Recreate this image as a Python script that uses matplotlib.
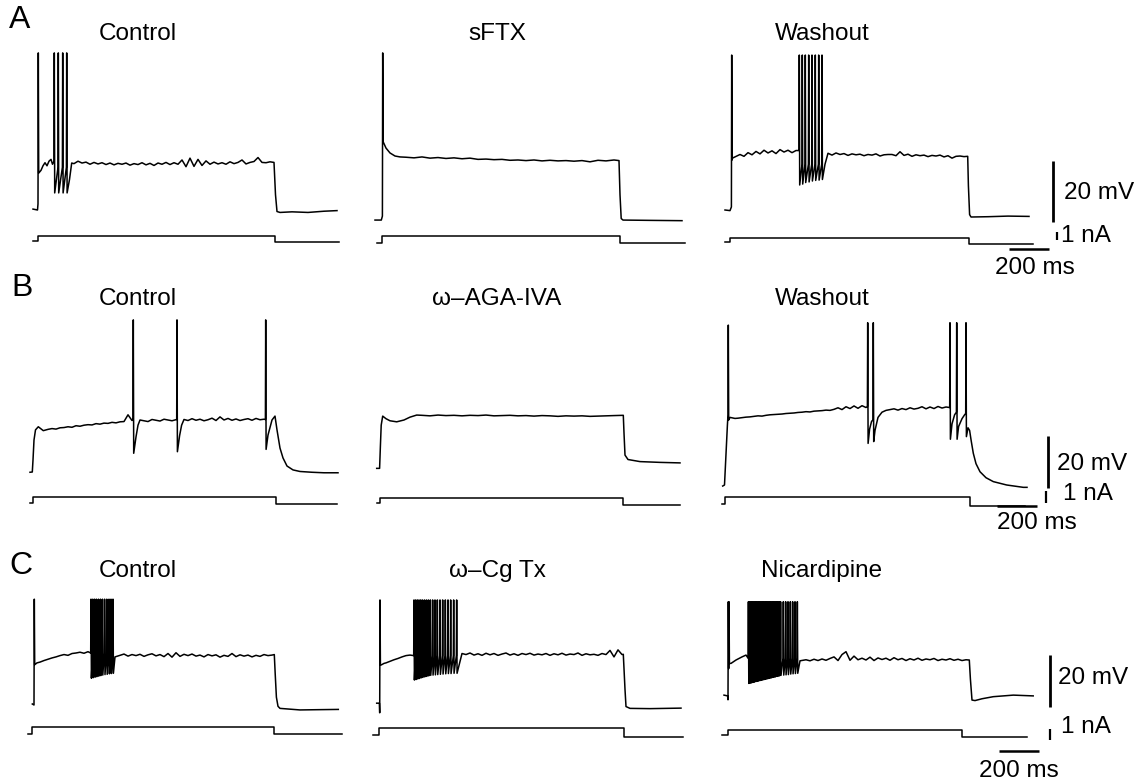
import numpy as np
import matplotlib
matplotlib.use('Agg')
import matplotlib.pyplot as plt

plt.rcParams['font.family'] = ['Liberation Sans', 'DejaVu Sans']

# ---------------- data (time in ms, membrane potential in mV, current in nA) ----------------
titles = [['Control', 'sFTX', 'Washout'],
          ['Control', 'ω–AGA-IVA', 'Washout'],
          ['Control', 'ω–Cg Tx', 'Nicardipine']]
row_letters = ['A', 'B', 'C']

# spikes are (time, threshold, peak, trough)
# --- A / Control
a1_t = [25, 47.5, 65, 75, 85, 95, 105, 115, 122.5, 207.5, 218.5,
        1230, 1237.5, 1245, 1260, 1320, 1400, 1480, 1545]
a1_v = [-59.7, -60.0, -47.0, -45.5, -44.5, -45.5, -44.0, -43.4, -45.0, -50.0, -44.6,
        -44.4, -55.0, -60.5, -60.8, -60.6, -60.8, -60.4, -60.2]
a1_spikes = [(51.5, -58.0, -8.5, -47.9), (131.5, -44.0, -8.5, -54.4), (151.5, -46.0, -8.5, -54.4),
             (173.5, -46.0, -8.5, -54.4), (193.5, -46.0, -8.5, -54.4)]
a1_grid = (230, 20, [-44.8, -44.0, -44.6, -44.3, -45.0, -44.4, -44.9, -44.5, -45.1, -44.6,
                     -45.2, -44.7, -45.0, -44.6, -45.3, -44.8, -45.1, -44.5, -45.2, -44.7,
                     -45.4, -44.6, -45.0, -44.4, -45.1, -44.5, -45.0, -43.6, -45.8, -43.0,
                     -45.7, -43.4, -45.4, -43.9, -45.0, -44.3, -44.9, -44.5, -45.0, -44.2,
                     -44.8, -44.4, -43.6, -44.9, -44.4, -44.1, -42.8, -44.4, -44.5, -44.2])
a1_i = ([26.5, 51.5, 1235, 1556.5], [0.08, 0.72, 0.0])

# --- A / sFTX
a2_t = [25, 56.5, 80, 100, 125, 150, 1245, 1250, 1256, 1265, 1400, 1560]
a2_v = [-63.3, -63.3, -39.7, -41.3, -42.3, -42.6, -43.8, -55.0, -62.8, -63.3, -63.4, -63.5]
a2_spikes = [(63.5, -62.0, -8.5, -37.6)]
a2_grid = (180, 40, [-42.7, -42.9, -42.6, -43.0, -42.8, -43.1, -42.9, -43.2, -43.0, -43.4,
                     -43.3, -43.5, -43.4, -43.7, -43.6, -43.8, -43.6, -43.9, -43.7, -43.9,
                     -43.8, -44.0, -43.8, -44.2, -43.7, -43.9, -43.6])
a2_i = ([33.5, 60, 1248, 1575], [-0.08, 0.72, -0.16])

# --- A / Washout
a3_t = [35, 60, 72, 535, 1248.5, 1252, 1258, 1265, 1350, 1450, 1555]
a3_v = [-60.0, -60.2, -43.0, -45.0, -42.4, -52.0, -61.5, -62.3, -62.2, -62.0, -62.1]
a3_spikes = [(68.5, -59.0, -9.2, -43.6),
             (406.5, -40.5, -9.2, -51.8), (421.5, -45.0, -9.2, -51.5), (436.5, -45.0, -9.2, -51.0),
             (453.5, -45.0, -9.2, -50.8), (470, -45.0, -9.2, -50.5), (486.5, -45.0, -9.2, -50.3),
             (503.5, -45.0, -9.2, -50.2), (520, -45.0, -9.2, -50.0)]
a3_grid = (90, 20, [-42.3, -41.8, -42.4, -41.2, -41.9, -40.8, -41.6, -40.4, -41.3, -40.6,
                    -41.5, -40.2, -41.0, -40.4, -41.2, -40.5,
                    -41.5, -41.5, -41.5, -41.5, -41.5, -41.5,
                    -41.5, -41.4, -42.0, -41.3, -41.8, -41.5, -42.1, -41.6, -41.9, -41.7,
                    -42.2, -41.8, -42.0, -41.6, -42.3, -41.9, -41.8, -41.8, -42.2, -40.9,
                    -42.1, -41.7, -42.4, -41.9, -42.2, -42.0, -42.5, -42.1, -42.3, -42.0,
                    -42.6, -42.2, -43.0, -42.4, -42.3, -42.5])
a3_i = ([35, 60, 1255, 1573.5], [0.0, 0.45, -0.28])

# --- B / Control
b1_t = [10, 21.5, 25, 30, 37.5, 51.5, 76.5, 540, 550, 758, 768,
        1200, 1220, 1235, 1245, 1260, 1275, 1295, 1325, 1360, 1420, 1480, 1550]
b1_v = [-60.1, -60.0, -55.4, -47.7, -43.8, -42.6, -44.1, -46.5, -42.0, -46.0, -42.0,
        -45.8, -40.0, -38.5, -43.8, -50.8, -54.6, -57.7, -59.2, -59.8, -60.1, -60.3, -60.3]
b1_spikes = [(526.5, -39.5, -1.5, -52.8), (745, -39.8, -1.5, -52.2), (1188.5, -39.8, -1.5, -51.3)]
b1_grid = (100, 20, [-43.6, -43.3, -43.5, -43.0, -42.9, -42.6, -42.8, -42.2, -42.4, -42.0,
                     -41.8, -41.9, -41.4, -41.6, -41.2, -41.3, -40.9, -41.1, -40.7, -40.6,
                     -38.0, -40.2, -40.4, -40.0, -40.3, -40.6, -39.8, -40.1, -40.4, -39.7,
                     -40.0, -40.3, -40.0, -40.0, -39.8, -40.2, -39.5, -40.1, -39.7, -40.3,
                     -39.9, -39.3, -40.2, -38.8, -40.0, -39.4, -40.1, -39.6, -40.2, -39.8,
                     -39.5, -40.1, -39.4, -39.9, -39.7])
b1_i = ([10, 26.5, 1240, 1545], [0.03, 0.48, -0.08])

# --- B / omega-AGA-IVA
b2_t = [33.5, 48, 52, 56, 63.5, 80, 100, 133.5, 170, 200, 233.5,
        1266.5, 1270, 1275, 1290, 1350, 1450, 1550]
b2_v = [-58.6, -58.6, -50.0, -42.0, -38.5, -39.5, -40.3, -40.7, -40.0, -38.9, -38.1,
        -38.2, -45.0, -53.5, -55.2, -56.0, -56.3, -56.5]
b2_spikes = []
b2_grid = (260, 40, [-38.2, -38.4, -38.1, -38.3, -38.2, -38.4, -38.2, -38.3, -38.1, -38.4,
                     -38.3, -38.2, -38.4, -38.3, -38.5, -38.3, -38.4, -38.6, -38.4, -38.5,
                     -38.4, -38.6, -38.5, -38.4, -38.3])
b2_i = ([33.5, 50, 1263.5, 1550], [0.03, 0.39, -0.17])

# --- B / Washout
b3_t = [23.5, 32.5, 47, 60, 85, 758, 768, 785, 800, 1170, 1183, 1203, 1220, 1233,
        1250, 1258, 1266, 1276.5, 1290, 1310, 1340, 1376.5, 1443.5, 1526.5, 1545]
b3_v = [-65.4, -65.0, -42.0, -39.0, -39.4, -43.5, -40.5, -44.0, -39.0, -41.5, -38.0, -42.5, -39.5, -38.0,
        -43.0, -44.0, -48.0, -52.8, -56.8, -59.9, -62.2, -63.7, -65.0, -65.9, -65.9]
b3_spikes = [(51.5, -38.0, -3.5, -40.0),
             (748.5, -34.8, -2.6, -49.0), (776.5, -40.0, -2.6, -48.3),
             (1160, -35.2, -2.6, -47.4), (1193.5, -37.0, -2.6, -47.4), (1240, -37.5, -2.6, -46.4)]
b3_grid = (100, 20, [-39.3, -39.1, -38.9, -38.8, -38.6, -38.4, -38.5, -38.2, -38.0, -37.9,
                     -37.8, -37.7, -37.5, -37.4, -37.3, -37.1, -37.0, -36.8, -36.9, -36.6,
                     -36.5, -36.4, -36.2, -36.3, -35.9, -35.3, -36.0, -34.9, -35.6, -34.6,
                     -35.5, -34.5, -35.2, -35.0, -35.0, -35.0, -37.0, -36.3, -36.0, -35.7,
                     -36.2, -35.6, -36.0, -35.3, -35.8, -35.5, -34.9, -35.7, -35.0, -35.6,
                     -34.8, -35.4, -35.0])
b3_i = ([18.5, 35, 1260, 1535], [-0.08, 0.48, -0.25])

# --- C / Control
c1_t = [21.5, 45, 435, 1231.5, 1236, 1242, 1250, 1260, 1360, 1450, 1551.5]
c1_v = [-59.6, -43.8, -41.5, -40.6, -48.0, -57.0, -60.5, -61.3, -61.9, -61.8, -61.7]
c1_spikes = [(31.5, -60.0, -19.3, -44.5),
             (315, -40.0, -19.3, -49.7), (324, -40.0, -19.3, -49.5), (333, -40.0, -19.3, -49.3),
             (342, -40.0, -19.3, -49.1), (352, -40.0, -19.3, -48.9), (362, -40.0, -19.3, -48.7),
             (372, -40.0, -19.3, -48.5), (383, -40.0, -19.3, -48.3), (394, -40.0, -19.3, -48.2),
             (405, -40.0, -19.3, -48.0), (415, -40.0, -19.3, -47.9), (425, -40.0, -19.3, -47.8)]
c1_grid = (60, 20, [-43.5, -42.9, -42.4, -41.9, -41.5, -41.0, -40.6, -40.9, -40.2, -40.0,
                    -39.7, -40.1, -39.5, -39.6, -39.5, -39.5, -39.5, -39.5, -39.5, -39.5,
                    -40.9, -40.4, -41.2, -40.6, -41.0, -40.5, -41.3, -40.7, -40.3, -41.1,
                    -40.6, -41.4, -40.2, -41.6, -39.9, -41.3, -40.5, -41.0, -40.4, -41.2,
                    -40.8, -41.5, -40.6, -41.1, -40.7, -41.6, -40.9, -41.3, -40.2, -41.4,
                    -40.7, -41.2, -40.8, -41.5, -40.9, -41.3, -40.6, -41.0, -40.8])
c1_i = ([0, 21.5, 1231.5, 1571.5], [0.0, 0.66, -0.03])

# --- C / omega-Cg Tx
c2_t = [33.5, 47, 56, 70, 1266.5, 1270, 1275, 1280, 1300, 1400, 1555]
c2_v = [-59.3, -59.3, -44.6, -44.0, -40.5, -46.0, -54.0, -60.6, -61.3, -61.4, -61.2]
c2_spike_times = [220, 228.3, 236.7, 245, 253.3, 261.7, 271.7, 281.7, 291.7, 301.7,
                  313.3, 325, 336.7, 350, 363.3, 376.7, 390, 403.3, 418.3, 433.3]
c2_troughs = [-50.4, -50.2, -50.0, -49.8, -49.6, -49.4, -49.2, -49.0, -48.8, -48.6,
              -48.5, -48.4, -48.3, -48.2, -48.1, -48.0, -47.9, -47.9, -47.8, -47.8]
c2_spikes = [(50, -63.0, -19.6, -44.6)] + [(t, -41.0, -19.6, tr) for t, tr in zip(c2_spike_times, c2_troughs)]
c2_grid = (80, 20, [-43.8, -43.2, -42.6, -42.1, -41.5, -41.0, -40.8, -40.8, -40.8, -40.8,
                    -40.8, -40.8, -40.8, -40.8, -40.8, -40.8, -40.8, -40.8, -40.8, -40.2,
                    -40.6, -40.0, -40.8, -40.3, -40.9, -40.1, -40.7, -40.2, -40.9, -40.4,
                    -40.0, -40.8, -40.3, -40.9, -40.2, -40.6, -40.1, -40.8, -40.4, -40.7,
                    -40.2, -40.9, -40.3, -40.7, -40.1, -40.8, -40.4, -40.6, -40.0, -40.9,
                    -40.3, -40.7, -40.5, -40.9, -40.2, -40.6, -39.0, -41.5, -38.8, -40.6])
c2_i = ([13.5, 45, 1270, 1565], [-0.09, 0.52, -0.25])

# --- C / Nicardipine
c3_t = [30, 48, 65, 90, 120, 410, 1256.5, 1262, 1270, 1285, 1320, 1376.5, 1476.5, 1576]
c3_v = [-56.2, -56.5, -44.0, -42.7, -41.5, -43.0, -42.7, -50.0, -58.1, -58.3, -57.6, -56.8, -56.2, -56.5]
c3_spike_times = [152, 159, 166, 173, 180, 187, 194, 201, 208, 215, 222, 229, 236, 243, 250, 257,
                  264, 271, 278, 285, 292, 299, 306, 313, 326.7, 338.3, 350, 361.7, 373.3, 385, 396.7]
c3_troughs = [-51.7, -51.6, -51.5, -51.3, -51.2, -51.0, -50.9, -50.8, -50.6, -50.5, -50.4, -50.2,
              -50.1, -50.0, -49.8, -49.7, -49.6, -49.4, -49.3, -49.2, -49.0, -48.9, -48.8, -48.6,
              -48.5, -48.4, -48.3, -48.1, -48.0, -47.9, -47.8]
c3_spikes = [(51.5, -58.0, -20.3, -46.0), (55, -46.0, -20.3, -44.0)] + \
            [(t, -42.0, -20.3, tr) for t, tr in zip(c3_spike_times, c3_troughs)]
c3_grid = (140, 20, [-40.8, -40.8, -40.8, -40.8, -40.8, -40.8, -40.8, -40.8, -40.8, -40.8,
                     -41.0, -41.0, -41.0, -41.0, -41.0, -42.6, -43.0, -42.4, -42.9, -42.3,
                     -42.8, -42.1, -41.5, -42.9, -40.6, -39.5, -42.8, -41.2, -42.6, -42.0,
                     -42.7, -41.6, -42.9, -41.9, -42.5, -42.0, -42.8, -41.8, -42.6, -42.1,
                     -42.9, -42.2, -42.7, -42.0, -42.8, -42.3, -42.6, -42.1, -42.9, -42.4,
                     -42.7, -42.2, -42.8, -42.4, -42.9, -42.6])
c3_i = ([20, 50, 1218.5, 1546.5], [-0.09, 0.36, -0.25])

panels = [[(a1_t, a1_v, a1_spikes, a1_grid, a1_i), (a2_t, a2_v, a2_spikes, a2_grid, a2_i),
           (a3_t, a3_v, a3_spikes, a3_grid, a3_i)],
          [(b1_t, b1_v, b1_spikes, b1_grid, b1_i), (b2_t, b2_v, b2_spikes, b2_grid, b2_i),
           (b3_t, b3_v, b3_spikes, b3_grid, b3_i)],
          [(c1_t, c1_v, c1_spikes, c1_grid, c1_i), (c2_t, c2_v, c2_spikes, c2_grid, c2_i),
           (c3_t, c3_v, c3_spikes, c3_grid, c3_i)]]

# scale bars
SCALE_MV = 20
SCALE_NA = 1
SCALE_MS = 200


def make_trace(wt, wv, spikes, grid):
    pts = list(zip(wt, wv))
    g0, gdt, gv = grid
    for k, v in enumerate(gv):
        t = g0 + k * gdt
        if any(s[0] - 5 <= t <= s[0] + 25 for s in spikes):
            continue
        if any(abs(t - w) < 5 for w in wt):
            continue
        pts.append((t, v))
    for t, thr, pk, tr in spikes:
        pts += [(t - 1.5, thr), (t, pk), (t + 2, tr)]
    pts.sort()
    t, v = zip(*pts)
    return np.array(t), np.array(v)


def make_step(times, levels):
    t0, ton, toff, tend = times
    pre, step, post = levels
    return [t0, ton, ton, toff, toff, tend], [pre, pre, step, step, post, post]


# ---------------- layout (pixels) ----------------
W, H = 1142, 783
col_left = [28, 370, 718]
col_width = 316          # 0.2 px per ms
t_max = 1580
rows = [dict(v_top=45, v_bot=228, v_ref=210, v_scale=3.05, i_top=228, i_bot=262, i_ref=242, i_scale=8.3),
        dict(v_top=312, v_bot=494, v_ref=472, v_scale=2.6, i_top=494, i_bot=512, i_ref=503, i_scale=12.0),
        dict(v_top=592, v_bot=718, v_ref=705, v_scale=2.6, i_top=718, i_bot=756, i_ref=734, i_scale=11.0)]
title_x = [138, 497, 822]
title_y = [34, 299, 571]
letter_pos = [(20, 20), (22, 288), (21, 566)]
# scale bar anchors: (t of mV bar, mV bar bottom, t of nA bar, nA bar bottom, ms bar start, ms bar level)
bar_pos = [(1676.5, -63.9, 1693.5, 0.24, 1455, -0.84),
           (1651.5, -66.2, 1640, 0.0, 1395, -0.25),
           (1660, -60.7, 1660, -0.55, 1405, -1.55)]
bar_text = [(1064, 193, 1061, 236, 1035, 268),
            (1057, 464, 1063, 494, 1037, 523),
            (1058, 678, 1061, 727, 1019, 771)]
fs = 17.5

fig = plt.figure(figsize=(W / 100, H / 100), dpi=100)


def px_axes(left, top, width, bottom):
    ax = fig.add_axes([left / W, 1 - bottom / H, width / W, (bottom - top) / H])
    ax.set_axis_off()
    return ax


lw = 1.1
for r, row in enumerate(rows):
    v_lo = -60 - (row['v_bot'] - row['v_ref']) / row['v_scale']
    v_hi = -60 + (row['v_ref'] - row['v_top']) / row['v_scale']
    i_lo = -(row['i_bot'] - row['i_ref']) / row['i_scale']
    i_hi = (row['i_ref'] - row['i_top']) / row['i_scale']
    for c in range(3):
        wt, wv, spikes, grid, cur = panels[r][c]
        vax = px_axes(col_left[c], row['v_top'], col_width, row['v_bot'])
        vax.set_xlim(0, t_max)
        vax.set_ylim(v_lo, v_hi)
        t, v = make_trace(wt, wv, spikes, grid)
        vax.plot(t, v, color='black', lw=lw, clip_on=False)

        iax = px_axes(col_left[c], row['i_top'], col_width, row['i_bot'])
        iax.set_xlim(0, t_max)
        iax.set_ylim(i_lo, i_hi)
        ti, ii = make_step(*cur)
        iax.plot(ti, ii, color='black', lw=lw, clip_on=False)

        fig.text(title_x[c] / W, 1 - title_y[r] / H, titles[r][c], fontsize=fs,
                 ha='center', va='center')

        if c == 2:
            tmv, vb, tna, ib, tms, ims = bar_pos[r]
            vax.plot([tmv, tmv], [vb, vb + SCALE_MV], color='black', lw=2.0, clip_on=False,
                     solid_capstyle='butt')
            iax.plot([tna, tna], [ib, ib + SCALE_NA], color='black', lw=1.6, clip_on=False,
                     solid_capstyle='butt')
            iax.plot([tms, tms + SCALE_MS], [ims, ims], color='black', lw=1.8, clip_on=False,
                     solid_capstyle='butt')
            x1, y1, x2, y2, x3, y3 = bar_text[r]
            fig.text(x1 / W, 1 - y1 / H, '20 mV', fontsize=fs, ha='left', va='center')
            fig.text(x2 / W, 1 - y2 / H, '1 nA', fontsize=fs, ha='left', va='center')
            fig.text(x3 / W, 1 - y3 / H, '200 ms', fontsize=fs, ha='center', va='center')

    lx, ly = letter_pos[r]
    fig.text(lx / W, 1 - ly / H, row_letters[r], fontsize=23, ha='center', va='center')

fig.savefig('out.png', dpi=100, facecolor='white')
